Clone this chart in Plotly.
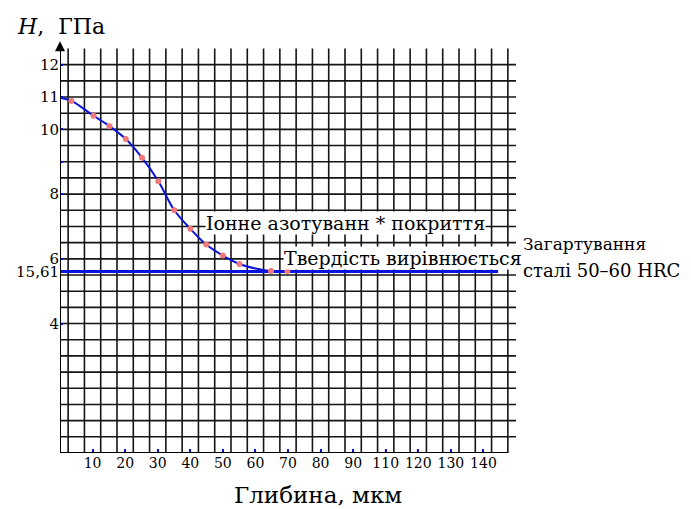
import numpy as np
import plotly.graph_objects as go

# ---- data ----
depth_pts = [3.5, 10.3, 15.2, 20.2, 25.2, 30.2, 35.1, 40.0, 44.9, 50.0, 55.1, 64.8, 69.8]
hard_pts = [10.88, 10.42, 10.10, 9.70, 9.12, 8.40, 7.50, 6.93, 6.44, 6.10, 5.84, 5.62, 5.62]

depth_curve = [0, 3.5, 10.3, 15.2, 20.2, 25.2, 30.2, 35.1, 40.0, 44.9, 50.0, 55.1, 60.0, 64.8]
hard_curve = [10.98, 10.88, 10.42, 10.10, 9.70, 9.12, 8.40, 7.50, 6.93, 6.44, 6.10, 5.84, 5.70, 5.62]

base_depth = [0, 134.5]
base_hard = [5.61, 5.61]

x_tickvals = [10, 20, 30, 40, 50, 60, 70, 80, 90, 100, 110, 120, 130]
x_ticktext = ["10", "20", "30", "40", "50", "60", "70", "80", "90", "110", "120", "130", "140"]
y_tickvals = [4, 5.61, 6, 8, 9, 10, 11, 12]
y_ticktext = ["4", "15,61", "6", "8", "", "10", "11", "12"]

FONT = "DejaVu Serif"
BLUE = "#0a14d8"

fig = go.Figure()

fig.add_trace(go.Scatter(x=base_depth, y=base_hard, mode="lines",
                         line=dict(color=BLUE, width=3), hoverinfo="skip"))
fig.add_trace(go.Scatter(x=depth_curve, y=hard_curve, mode="lines",
                         line=dict(color=BLUE, width=2, shape="spline", smoothing=1.0),
                         hoverinfo="skip"))
fig.add_trace(go.Scatter(x=depth_pts, y=hard_pts, mode="markers",
                         marker=dict(color="#f07a7a", size=6, symbol="circle"),
                         hoverinfo="skip"))

shapes = []
for yv in np.arange(0.5, 12.01, 0.5):
    shapes.append(dict(type="line", xref="x", yref="y", x0=0, x1=140, y0=yv, y1=yv,
                       line=dict(color="#151515", width=1.6), layer="below"))
for xv in np.arange(2.5, 137.6, 5):
    shapes.append(dict(type="line", xref="x", yref="y", x0=xv, x1=xv, y0=0, y1=12.5,
                       line=dict(color="#151515", width=1.6), layer="below"))
# axes lines
shapes.append(dict(type="line", xref="x", yref="y", x0=0, x1=137.5, y0=0, y1=0,
                   line=dict(color="black", width=2)))
shapes.append(dict(type="line", xref="x", yref="y", x0=0, x1=0, y0=0, y1=12.55,
                   line=dict(color="black", width=2)))

annotations = [
    dict(x=0, y=12.72, ax=0, ay=12.4, xref="x", yref="y", axref="x", ayref="y",
         text="", showarrow=True, arrowhead=2, arrowsize=1, arrowwidth=2, arrowcolor="black"),
    dict(x=-0.099, y=1.0365, xref="paper", yref="paper", xanchor="left", yanchor="middle",
         text="<i>H</i>,\u00a0\u00a0ГПа", showarrow=False,
         font=dict(family=FONT, size=22, color="black")),
    dict(x=0.566, y=-0.101, xref="paper", yref="paper", xanchor="center", yanchor="middle",
         text="Глибина, мкм", showarrow=False,
         font=dict(family=FONT, size=23, color="black")),
    dict(x=44.6, y=7.11, xref="x", yref="y", xanchor="left", yanchor="middle",
         text="Іонне азотуванн * покриття", showarrow=False, bgcolor="white", borderpad=0,
         font=dict(family=FONT, size=19, color="black")),
    dict(x=68.5, y=6.03, xref="x", yref="y", xanchor="left", yanchor="middle",
         text="Твердість вирівнюється", showarrow=False, bgcolor="white", borderpad=0,
         font=dict(family=FONT, size=19, color="black")),
    dict(x=1.0103, y=0.5085, xref="paper", yref="paper", xanchor="left", yanchor="middle",
         text="Загартування", showarrow=False,
         font=dict(family=FONT, size=17, color="black")),
    dict(x=1.0103, y=0.445, xref="paper", yref="paper", xanchor="left", yanchor="middle",
         text="сталі 50–60 HRC", showarrow=False,
         font=dict(family=FONT, size=18, color="black")),
]

fig.update_layout(
    width=691, height=509,
    margin=dict(l=60, r=175, t=42, b=56),
    paper_bgcolor="white", plot_bgcolor="white",
    showlegend=False,
    shapes=shapes, annotations=annotations,
    xaxis=dict(range=[0, 140], showgrid=False, zeroline=False, showline=False,
               tickvals=x_tickvals, ticktext=x_ticktext, ticks="inside", ticklen=4,
               tickwidth=2, tickcolor=BLUE,
               tickfont=dict(family=FONT, size=14, color="black")),
    yaxis=dict(range=[0, 12.7], showgrid=False, zeroline=False, showline=False,
               tickvals=y_tickvals, ticktext=y_ticktext, ticks="inside", ticklen=3,
               tickwidth=2, tickcolor=BLUE,
               tickfont=dict(family=FONT, size=15, color="black")),
)

fig.write_html("out.html", config={"displayModeBar": False},
               post_script="document.body.style.margin='0';document.body.style.overflow='hidden';")
